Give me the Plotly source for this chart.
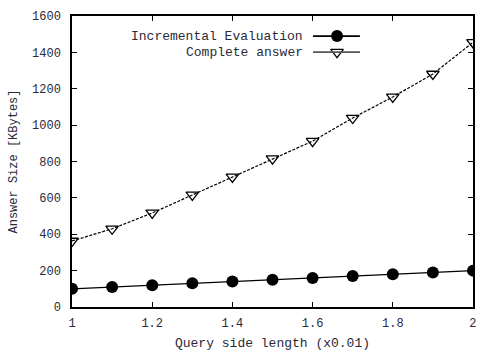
import plotly.graph_objects as go

x_vals = [1.0, 1.1, 1.2, 1.3, 1.4, 1.5, 1.6, 1.7, 1.8, 1.9, 2.0]
incremental = [100, 110, 120, 130, 140, 150, 160, 170, 180, 190, 200]
complete = [363, 430, 517, 616, 715, 816, 912, 1039, 1155, 1281, 1455]
names = ["Incremental Evaluation", "Complete answer"]
x_ticks = [1, 1.2, 1.4, 1.6, 1.8, 2]
x_tick_text = ["1", "1.2", "1.4", "1.6", "1.8", "2"]
y_ticks = [0, 200, 400, 600, 800, 1000, 1200, 1400, 1600]

FONT = "Liberation Mono"
TXT = "#2a2a3a"
fig = go.Figure()
fig.add_trace(go.Scatter(x=x_vals, y=incremental, name=names[0], mode="lines+markers",
                         line=dict(color="black", width=1.3),
                         marker=dict(symbol="circle", size=12, color="black")))
fig.add_trace(go.Scatter(x=x_vals, y=complete, name=names[1], mode="lines+markers",
                         line=dict(color="black", width=1.2, dash="3px,1.5px"),
                         marker=dict(symbol="triangle-down-open", size=11, color="black",
                                     line=dict(width=1.3, color="black"))))

# custom gnuplot-style legend (text right-aligned, sample to the right)
rows = [0.931, 0.876]
for yy, nm, col in zip(rows, names, ["black", "#555"]):
    fig.add_annotation(xref="paper", yref="paper", x=0.581, y=yy, text=nm, showarrow=False,
                       xanchor="right", yanchor="middle", font=dict(family=FONT, size=13, color=TXT))
    fig.add_shape(type="line", xref="paper", yref="paper", x0=0.601, x1=0.718, y0=yy, y1=yy,
                  line=dict(color=col, width=1.6))
fig.add_trace(go.Scatter(x=[0.661], y=[rows[0]], xaxis="x2", yaxis="y2", mode="markers",
                         marker=dict(symbol="circle", size=12, color="black"), showlegend=False, hoverinfo="skip"))
fig.add_trace(go.Scatter(x=[0.661], y=[rows[1]], xaxis="x2", yaxis="y2", mode="markers",
                         marker=dict(symbol="triangle-down-open", size=11, color="black",
                                     line=dict(width=1.3, color="black")), showlegend=False, hoverinfo="skip"))

fig.update_layout(
    width=482, height=351,
    margin=dict(l=72, r=9, t=16, b=44),
    paper_bgcolor="white", plot_bgcolor="white",
    showlegend=False,
    font=dict(family=FONT, size=12, color=TXT),
    xaxis=dict(range=[0.9999, 2.0001], tickvals=x_ticks, ticktext=x_tick_text, ticks="inside", ticklen=5,
               showgrid=False, zeroline=False, showline=True, linecolor="black", linewidth=1.5,
               mirror="ticks", tickcolor="black", automargin=False, ticklabelstandoff=4,
               title=dict(text="Query side length (x0.01)", font=dict(size=13), standoff=10)),
    yaxis=dict(range=[0, 1600], tickvals=y_ticks, ticks="inside", ticklen=5,
               showgrid=False, zeroline=False, showline=True, linecolor="black", linewidth=1.5,
               mirror="ticks", tickcolor="black", automargin=False, ticklabelstandoff=7,
               title=dict(text="Answer Size [KBytes]", font=dict(size=12), standoff=12)),
    xaxis2=dict(range=[0, 1], overlaying="x", visible=False, fixedrange=True),
    yaxis2=dict(range=[0, 1], overlaying="y", visible=False, fixedrange=True),
)
fig.write_html("out.html", config={"displayModeBar": False},
               post_script="document.body.style.margin='0';document.body.style.padding='0';")
